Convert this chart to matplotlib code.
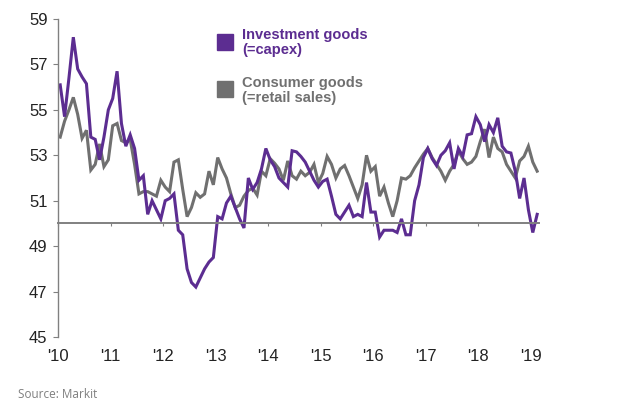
import numpy as np
import matplotlib
matplotlib.use("Agg")
import matplotlib.pyplot as plt
from matplotlib.patches import Rectangle

plt.rcParams["font.family"] = ["Liberation Sans", "DejaVu Sans"]

# monthly PMI readings, Jan 2010 .. Feb 2019
START_YEAR = 2010
capex = [
    56.1, 54.7, 56.4, 58.2, 56.8, 56.45, 56.15, 53.8, 53.7, 52.8, 53.8, 55.0,   # 2010
    55.5, 56.7, 54.4, 53.4, 53.9, 53.3, 51.9, 52.1, 50.4, 51.0, 50.6, 50.2,     # 2011
    51.0, 51.1, 51.3, 49.7, 49.5, 48.0, 47.4, 47.2, 47.6, 48.0, 48.3, 48.5,     # 2012
    50.3, 50.2, 50.9, 51.2, 50.7, 50.2, 49.8, 52.0, 51.5, 51.8, 52.4, 53.3,     # 2013
    52.8, 52.5, 52.0, 51.8, 51.6, 53.2, 53.15, 52.95, 52.7, 52.3, 51.9, 51.6,   # 2014
    51.85, 51.95, 51.2, 50.4, 50.2, 50.5, 50.8, 50.3, 50.4, 50.3, 51.8, 50.5,   # 2015
    50.5, 49.4, 49.7, 49.7, 49.7, 49.6, 50.2, 49.5, 49.5, 51.0, 51.7, 52.9,     # 2016
    53.3, 52.85, 52.55, 53.0, 53.2, 53.55, 52.4, 53.3, 52.95, 53.9, 53.95, 54.7,  # 2017
    54.35, 53.6, 54.35, 54.0, 54.65, 53.4, 53.15, 53.1, 52.3, 51.1, 52.0, 50.6,   # 2018
    49.6, 50.4,                                                                 # 2019
]
retail = [
    53.8, 54.5, 55.0, 55.55, 54.8, 53.75, 54.1, 52.35, 52.6, 53.5, 52.5, 52.8,  # 2010
    54.3, 54.4, 53.65, 53.55, 53.7, 52.6, 51.3, 51.4, 51.4, 51.3, 51.2, 51.9,   # 2011
    51.6, 51.4, 52.7, 52.8, 51.5, 50.3, 50.7, 51.35, 51.15, 51.3, 52.3, 51.7,   # 2012
    52.9, 52.4, 52.0, 51.3, 50.7, 50.8, 51.2, 51.45, 51.55, 51.25, 52.3, 52.1,  # 2013
    52.85, 52.65, 52.4, 51.9, 52.75, 52.1, 51.95, 52.3, 52.1, 52.25, 52.6, 51.8,  # 2014
    52.2, 52.95, 52.6, 52.0, 52.4, 52.55, 52.1, 51.6, 51.1, 51.7, 53.0, 52.3,   # 2015
    52.5, 51.2, 51.6, 50.9, 50.3, 51.0, 52.0, 51.95, 52.1, 52.45, 52.75, 53.05,  # 2016
    53.3, 52.9, 52.6, 52.3, 51.9, 52.3, 52.6, 53.2, 52.85, 52.6, 52.7, 52.95,   # 2017
    53.6, 54.15, 52.9, 53.8, 53.3, 53.15, 52.6, 52.3, 52.0, 52.75, 52.95, 53.4,  # 2018
    52.7, 52.3,                                                                 # 2019
]
year_ticks = list(range(2010, 2020))
year_labels = ["'10", "'11", "'12", "'13", "'14", "'15", "'16", "'17", "'18", "'19"]
y_ticks = [45, 47, 49, 51, 53, 55, 57, 59]

PURPLE = "#5c2d91"
GREY = "#707070"
AXIS = "#808080"

months = START_YEAR + (np.arange(len(capex)) + 0.5) / 12

fig = plt.figure(figsize=(6.4, 4.07), dpi=100)
ax = fig.add_axes([58 / 640, 70 / 407, 481 / 640, 318 / 407])

ax.plot(months, retail, color=GREY, lw=2.2, solid_joinstyle="miter")
ax.plot(months, capex, color=PURPLE, lw=2.2, solid_joinstyle="miter")

ax.set_xlim(2010, 2019.16)
ax.set_ylim(45, 59)

# x axis sits on the 50 line, labels stay under the plot
for s in ("top", "right"):
    ax.spines[s].set_visible(False)
ax.spines["bottom"].set_position(("data", 50))
ax.spines["bottom"].set_color(AXIS)
ax.spines["bottom"].set_linewidth(1.4)
ax.spines["left"].set_color(AXIS)
ax.spines["left"].set_linewidth(1.0)

ax.set_yticks(y_ticks)
ax.set_xticks(year_ticks)
ax.set_xticklabels(year_labels)
ax.tick_params(axis="y", direction="out", length=3.5, width=0.8, color=AXIS,
               pad=4, labelsize=12, labelcolor="#222222")
ax.tick_params(axis="x", direction="out", length=2.5, width=0.8, color=AXIS,
               pad=88, labelsize=12, labelcolor="#222222")

# legend drawn by hand: square swatches + two-line coloured labels
fig.patches.append(Rectangle((217 / 640, 1 - 50 / 407), 16 / 640, 16 / 407,
                             transform=fig.transFigure, color=PURPLE))
fig.patches.append(Rectangle((217 / 640, 1 - 97 / 407), 16 / 640, 16 / 407,
                             transform=fig.transFigure, color=GREY))
fig.text(242 / 640, 1 - 28 / 407, "Investment goods\n(=capex)", color=PURPLE,
         fontsize=10.5, fontweight="bold", va="top", ha="left", linespacing=1.1)
fig.text(242 / 640, 1 - 76 / 407, "Consumer goods\n(=retail sales)", color=GREY,
         fontsize=10.5, fontweight="bold", va="top", ha="left", linespacing=1.1)

fig.text(18 / 640, 1 - 395 / 407, "Source: Markit", color="#7f7f7f",
         fontsize=8.5, va="center", ha="left", family=["Open Sans", "DejaVu Sans"])

fig.savefig("out.png", dpi=100)
